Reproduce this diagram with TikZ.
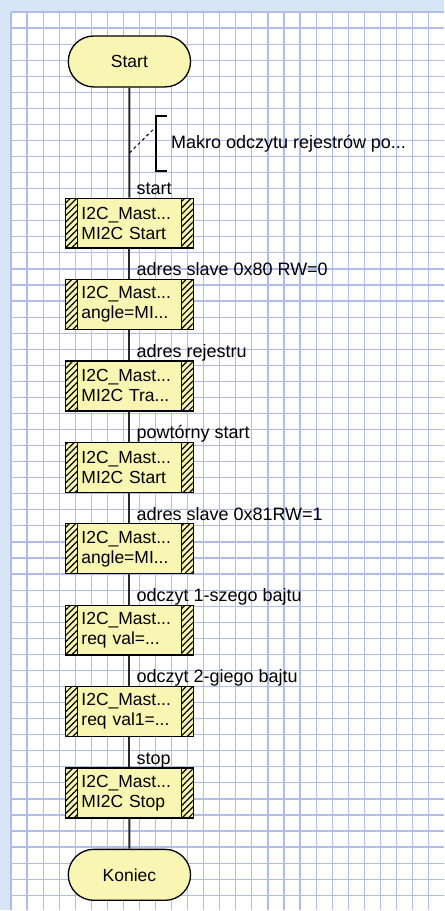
\documentclass[tikz,border=0pt]{standalone}
\usepackage{fontspec}
\setmainfont{Liberation Sans}
\usepackage{xcolor}
\usepackage{tikz}
\usetikzlibrary{shapes.misc, positioning, calc, patterns.meta}

\definecolor{tlo}{RGB}{214,230,247}
\definecolor{kratka}{RGB}{176,188,236}
\definecolor{zolty}{RGB}{249,245,178}
\definecolor{linia}{RGB}{40,40,40}

\begin{document}
\begin{tikzpicture}[
        x=1pt, y=1pt,
        node distance=30.15pt,
        siatka/.style={draw=kratka, line width=1.2pt},
        terminal/.style={rounded rectangle, draw, line width=1.3pt, fill=zolty, minimum width=129pt, minimum height=51pt, font=\fontsize{17.5}{20}\selectfont},
        blok/.style={rectangle, draw, line width=1.3pt, fill=zolty, minimum width=128pt, minimum height=50pt, text width=96pt, align=left, font=\fontsize{17.5}{20}\selectfont,
            path picture={
                \fill[pattern={Lines[angle=45, distance=4.5pt, line width=1.2pt]}] (path picture bounding box.north west) rectangle ([xshift=12pt]path picture bounding box.south west);
                \fill[pattern={Lines[angle=45, distance=4.5pt, line width=1.2pt]}] (path picture bounding box.north east) rectangle ([xshift=-12pt]path picture bounding box.south east);
                \draw[line width=1.3pt] ([xshift=12pt]path picture bounding box.north west) -- ([xshift=12pt]path picture bounding box.south west);
                \draw[line width=1.3pt] ([xshift=-12pt]path picture bounding box.north east) -- ([xshift=-12pt]path picture bounding box.south east);
            }},
        etykieta/.style={anchor=base west, inner sep=0pt, font=\fontsize{18}{20}\selectfont},
        polacz/.style={draw=linia, line width=1.9pt}
    ]

    % Background and grid paper
    \fill[tlo] (0,0) rectangle (444,-911);
    \fill[white] (11,-12) rectangle (444,-911);
    \begin{scope}[shift={(11,-12)}]
        \draw[siatka, step=16.07] (0,0) grid (433,-899);
    \end{scope}

    % Flow nodes
    \node[terminal] (start) at (129.5,-61.5) {Start};
    \node[blok, below=110pt of start] (b1) {I2C\_Mast...\\MI2C Start};
    \node[blok, below=of b1] (b2) {I2C\_Mast...\\angle=MI...};
    \node[blok, below=of b2] (b3) {I2C\_Mast...\\MI2C Tra...};
    \node[blok, below=of b3] (b4) {I2C\_Mast...\\MI2C Start};
    \node[blok, below=of b4] (b5) {I2C\_Mast...\\angle=MI...};
    \node[blok, below=of b5] (b6) {I2C\_Mast...\\req val=...};
    \node[blok, below=of b6] (b7) {I2C\_Mast...\\req val1=...};
    \node[blok, below=of b7] (b8) {I2C\_Mast...\\MI2C Stop};
    \node[terminal, below=of b8] (koniec) {Koniec};

    % Connectors
    \draw[polacz] (start) -- (b1);
    \draw[polacz] (b1) -- (b2);
    \draw[polacz] (b2) -- (b3);
    \draw[polacz] (b3) -- (b4);
    \draw[polacz] (b4) -- (b5);
    \draw[polacz] (b5) -- (b6);
    \draw[polacz] (b6) -- (b7);
    \draw[polacz] (b7) -- (b8);
    \draw[polacz] (b8) -- (koniec);

    % Labels of the steps
    \node[etykieta] (e1) at ($(b1.north)+(7,3)$) {start};
    \node[etykieta] (e2) at ($(b2.north)+(7,3)$) {adres slave 0x80 RW=0};
    \node[etykieta] (e3) at ($(b3.north)+(7,3)$) {adres rejestru};
    \node[etykieta] (e4) at ($(b4.north)+(7,3)$) {powtórny start};
    \node[etykieta] (e5) at ($(b5.north)+(7,3)$) {adres slave 0x81RW=1};
    \node[etykieta] (e6) at ($(b6.north)+(7,3)$) {odczyt 1-szego bajtu};
    \node[etykieta] (e7) at ($(b7.north)+(7,3)$) {odczyt 2-giego bajtu};
    \node[etykieta] (e8) at ($(b8.north)+(7,3)$) {stop};

    % Comment
    \coordinate (kom) at (129.5,-153);
    \node[etykieta] (komentarz) at (171,-148.5) {Makro odczytu rejestrów po...};
    \draw[line width=1.3pt] (167,-116) -- (156,-116) -- (156,-171) -- (167,-171);
    \draw[dashed, line width=1pt] (kom) -- (155,-128);

\end{tikzpicture}
\end{document}
